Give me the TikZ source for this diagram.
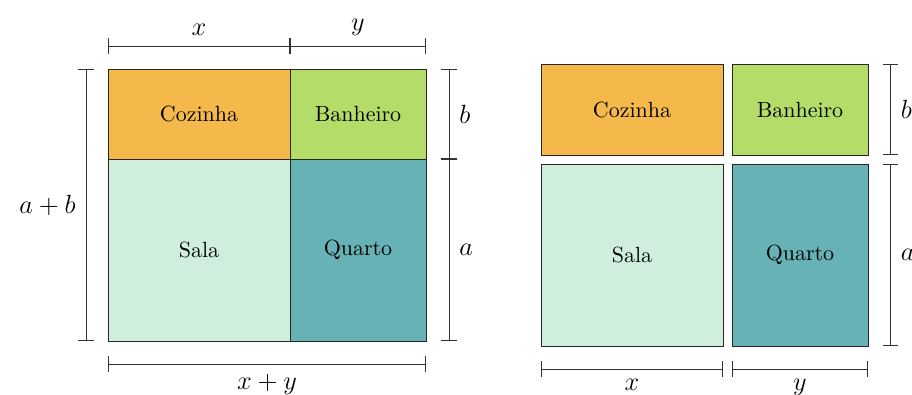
\documentclass[tikz,border=0pt]{standalone}
\usepackage{amsmath,amssymb}
\usepackage{tikz}
\usetikzlibrary{
    arrows.meta,
    positioning
}

\definecolor{corCozinha}{RGB}{245,184,75}
\definecolor{corBanheiro}{RGB}{179,220,105}
\definecolor{corSala}{RGB}{207,239,220}
\definecolor{corQuarto}{RGB}{102,178,180}

\tikzset{
    comodo/.style={draw=black!85, thin, inner sep=0pt, outer sep=0pt},
    cota/.style={thin, draw=black!80, {Bar[width=7pt]}-{Bar[width=7pt]}},
    rotulo/.style={font=\fontsize{13.2}{16}\selectfont, inner sep=4.5pt}
}

\begin{document}
\begin{tikzpicture}[scale=1]
\useasboundingbox (0,0) rectangle (14.592,6.304);

% Planta inteira
\node[comodo, fill=corSala, minimum width=2.912cm, minimum height=2.912cm] (salaA) at (3.184,2.304) {Sala};
\node[comodo, fill=corCozinha, minimum width=2.912cm, minimum height=1.44cm, above=0pt of salaA] (cozA) {Cozinha};
\node[comodo, fill=corQuarto, minimum width=2.176cm, minimum height=2.912cm, right=0pt of salaA] (quaA) {Quarto};
\node[comodo, fill=corBanheiro, minimum width=2.176cm, minimum height=1.44cm, right=0pt of cozA] (banA) {Banheiro};

% Cotas da planta inteira
\draw[cota] ([yshift=0.368cm]cozA.north west) -- ([yshift=0.368cm]cozA.north east)
    node[rotulo, midway, above] (xA) {$x$};
\draw[cota] ([yshift=0.368cm]banA.north west) -- ([yshift=0.368cm]banA.north east)
    node[rotulo, midway, above] (yA) {$y$};
\draw[cota] ([xshift=-0.352cm]cozA.north west) -- ([xshift=-0.352cm]salaA.south west)
    node[rotulo, midway, left] (abA) {$a+b$};
\draw[cota] ([xshift=0.368cm]banA.north east) -- ([xshift=0.368cm]banA.south east)
    node[rotulo, midway, right] (bA) {$b$};
\draw[cota] ([xshift=0.368cm]quaA.north east) -- ([xshift=0.368cm]quaA.south east)
    node[rotulo, midway, right] (aA) {$a$};
\draw[cota] ([yshift=-0.368cm]salaA.south west) -- ([yshift=-0.368cm]quaA.south east)
    node[rotulo, midway, below] (xyA) {$x+y$};

% Planta separada
\node[comodo, fill=corSala, minimum width=2.912cm, minimum height=2.912cm] (salaB) at (10.112,2.224) {Sala};
\node[comodo, fill=corCozinha, minimum width=2.912cm, minimum height=1.456cm, above=0.144cm of salaB] (cozB) {Cozinha};
\node[comodo, fill=corQuarto, minimum width=2.176cm, minimum height=2.912cm, right=0.144cm of salaB] (quaB) {Quarto};
\node[comodo, fill=corBanheiro, minimum width=2.176cm, minimum height=1.456cm, right=0.144cm of cozB] (banB) {Banheiro};

% Cotas da planta separada
\draw[cota] ([xshift=0.36cm]banB.north east) -- ([xshift=0.36cm]banB.south east)
    node[rotulo, midway, right] (bB) {$b$};
\draw[cota] ([xshift=0.36cm]quaB.north east) -- ([xshift=0.36cm]quaB.south east)
    node[rotulo, midway, right] (aB) {$a$};
\draw[cota] ([yshift=-0.368cm]salaB.south west) -- ([yshift=-0.368cm]salaB.south east)
    node[rotulo, midway, below] (xB) {$x$};
\draw[cota] ([yshift=-0.368cm]quaB.south west) -- ([yshift=-0.368cm]quaB.south east)
    node[rotulo, midway, below] (yB) {$y$};

\end{tikzpicture}
\end{document}
